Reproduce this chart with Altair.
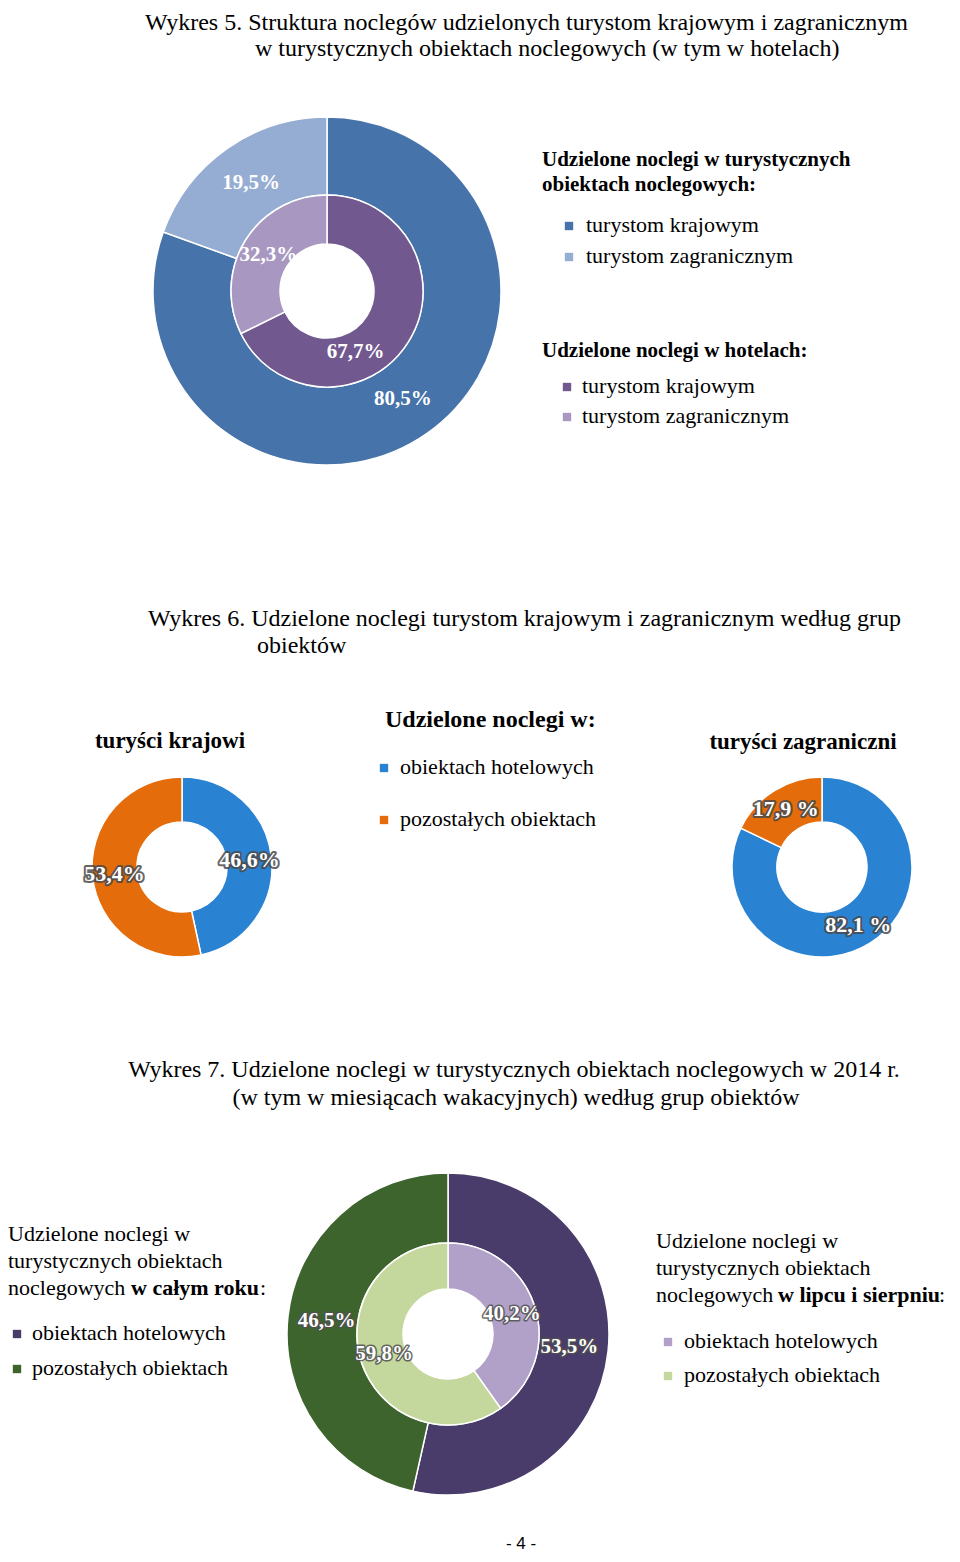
import altair as alt
import pandas as pd

OFF = 8  # page margin; page coordinates are converted to chart coordinates
SERIF = "Liberation Serif"
SANS = "Liberation Sans"

# ---------------- data ----------------
# Wykres 5
w5_title = ["Wykres 5. Struktura noclegów udzielonych turystom krajowym i zagranicznym",
            "w turystycznych obiektach noclegowych (w tym w hotelach)"]
w5_cats = ["turystom krajowym", "turystom zagranicznym"]
w5_all_vals = [80.5, 19.5]
w5_all_labels = ["80,5%", "19,5%"]
w5_hotel_vals = [67.7, 32.3]
w5_hotel_labels = ["67,7%", "32,3%"]
w5_legend1_title = ["Udzielone noclegi w turystycznych", "obiektach noclegowych:"]
w5_legend2_title = ["Udzielone noclegi w hotelach:"]

# Wykres 6
w6_title = ["Wykres 6. Udzielone noclegi turystom krajowym i zagranicznym według grup",
            "obiektów"]
w6_cats = ["obiektach hotelowych", "pozostałych obiektach"]
w6_dom_vals = [46.6, 53.4]
w6_dom_labels = ["46,6%", "53,4%"]
w6_for_vals = [82.1, 17.9]
w6_for_labels = ["82,1 %", "17,9 %"]
w6_panel_titles = ["turyści krajowi", "turyści zagraniczni"]
w6_legend_title = ["Udzielone noclegi w:"]

# Wykres 7
w7_title = ["Wykres 7. Udzielone noclegi w turystycznych obiektach noclegowych w 2014 r.",
            "(w tym w miesiącach wakacyjnych) według grup obiektów"]
w7_cats = ["obiektach hotelowych", "pozostałych obiektach"]
w7_year_vals = [53.5, 46.5]
w7_year_labels = ["53,5%", "46,5%"]
w7_summer_vals = [40.2, 59.8]
w7_summer_labels = ["40,2%", "59,8%"]
w7_year_legend_title = ["Udzielone noclegi w", "turystycznych obiektach", "noclegowych ", "w całym roku", ":"]
w7_summer_legend_title = ["Udzielone noclegi w", "turystycznych obiektach", "noclegowych ", "w lipcu i sierpniu", ":"]

page_number = ["- 4 -"]

# ---------------- styles ----------------
C5_ALL = ["#4673A9", "#96ADD3"]
C5_HOTEL = ["#71588F", "#A898C1"]
C6 = ["#2A83D2", "#E46C0A"]
C7_YEAR = ["#4A3C6A", "#3E642E"]
C7_SUMMER = ["#B1A1C8", "#C4D79C"]


def frame(cats, vals, labels):
    return pd.DataFrame({"kat": cats, "v": vals, "lab": labels, "i": list(range(len(cats)))})


def ring(df, colors, cx, cy, r0, r1):
    return alt.Chart(df).mark_arc(
        innerRadius=r0, outerRadius=r1, stroke="white", strokeWidth=1.5
    ).encode(
        theta=alt.Theta("v:Q", stack=True),
        color=alt.Color("kat:N", scale=alt.Scale(domain=list(df["kat"]), range=colors), legend=None),
        order=alt.Order("i:Q"),
        x=alt.value(cx - OFF),
        y=alt.value(cy - OFF),
    )


def ring_labels(df, cx, cy, r, size=21, halo=None, halo_w=3.0, sel=None, dx=0, dy=0):
    base = alt.Chart(df).transform_stack(
        stack="v", as_=["v0", "v1"], groupby=[], sort=[alt.SortField("i")]
    ).transform_calculate(mid="(datum.v0 + datum.v1) / 2")
    if sel is not None:
        base = base.transform_filter(alt.datum.i == sel)
    enc = dict(
        theta=alt.Theta("mid:Q", stack=False, scale=alt.Scale(domain=[0, 100])),
        text=alt.Text("lab:N"),
        x=alt.value(cx - OFF),
        y=alt.value(cy - OFF),
    )
    out = []
    common = dict(radius=r, dx=dx, dy=dy, font=SERIF, fontSize=size, fontWeight="bold",
                  align="center", baseline="middle")
    if halo:
        out.append(base.mark_text(color=halo, stroke=halo, strokeWidth=halo_w,
                                  strokeJoin="round", strokeOpacity=0.85, **common).encode(**enc))
    out.append(base.mark_text(color="white", **common).encode(**enc))
    return out


def txt(s, x, y, size, weight="normal", align="left", font=SERIF):
    return alt.Chart(pd.DataFrame({"t": [s]})).mark_text(
        align=align, baseline="alphabetic", font=font, fontSize=size,
        fontWeight=weight, color="black"
    ).encode(text="t:N", x=alt.value(x - OFF), y=alt.value(y - OFF))


def legend_item(cat, cats, colors, sx, sy, tx, ty, size=22, sq=70):
    df = pd.DataFrame({"kat": [cat]})
    square = alt.Chart(df).mark_square(size=sq, opacity=1).encode(
        color=alt.Color("kat:N", scale=alt.Scale(domain=cats, range=colors), legend=None),
        x=alt.value(sx - OFF), y=alt.value(sy - OFF),
    )
    label = alt.Chart(df).mark_text(
        align="left", baseline="alphabetic", font=SERIF, fontSize=size, color="black"
    ).encode(text="kat:N", x=alt.value(tx - OFF), y=alt.value(ty - OFF))
    return [square, label]


layers = []

# ===== Wykres 5 =====
layers += [txt(w5_title[0], 145, 30, 24), txt(w5_title[1], 255, 56, 24)]
d5a = frame(w5_cats, w5_all_vals, w5_all_labels)
d5h = frame(w5_cats, w5_hotel_vals, w5_hotel_labels)
cx5, cy5 = 327, 291
layers.append(ring(d5a, C5_ALL, cx5, cy5, 96, 174))
layers.append(ring(d5h, C5_HOTEL, cx5, cy5, 47, 96))
layers += ring_labels(d5a, cx5, cy5, 132)
layers += ring_labels(d5h, cx5, cy5, 69, sel=1)
layers += ring_labels(d5h, cx5, cy5, 69, sel=0, dx=-30, dy=25)
layers += [txt(w5_legend1_title[0], 542, 166, 21, "bold"), txt(w5_legend1_title[1], 542, 191, 21, "bold")]
layers += legend_item(w5_cats[0], w5_cats, C5_ALL, 569, 226, 586, 232)
layers += legend_item(w5_cats[1], w5_cats, C5_ALL, 569, 257, 586, 263)
layers += [txt(w5_legend2_title[0], 542, 357, 21, "bold")]
layers += legend_item(w5_cats[0], w5_cats, C5_HOTEL, 567, 387, 582, 393)
layers += legend_item(w5_cats[1], w5_cats, C5_HOTEL, 567, 417, 582, 423)

# ===== Wykres 6 =====
layers += [txt(w6_title[0], 148, 626, 24), txt(w6_title[1], 257, 653, 24)]
d6d = frame(w6_cats, w6_dom_vals, w6_dom_labels)
d6f = frame(w6_cats, w6_for_vals, w6_for_labels)
layers.append(ring(d6d, C6, 182, 867, 45, 90))
layers.append(ring(d6f, C6, 822, 867, 45, 90))
layers += ring_labels(d6d, 182, 867, 68, size=22, halo="#4a4a4a", halo_w=4)
layers += ring_labels(d6f, 822, 867, 68, size=22, halo="#4a4a4a", halo_w=4)
layers += [txt(w6_panel_titles[0], 170, 748, 23, "bold", align="center"),
           txt(w6_panel_titles[1], 803, 749, 23, "bold", align="center"),
           txt(w6_legend_title[0], 385, 727, 24, "bold")]
layers += legend_item(w6_cats[0], w6_cats, C6, 384, 768, 400, 774)
layers += legend_item(w6_cats[1], w6_cats, C6, 384, 820, 400, 826)

# ===== Wykres 7 =====
layers += [txt(w7_title[0], 514, 1077, 24, align="center"),
           txt(w7_title[1], 516, 1105, 24, align="center")]
d7y = frame(w7_cats, w7_year_vals, w7_year_labels)
d7s = frame(w7_cats, w7_summer_vals, w7_summer_labels)
cx7, cy7 = 448, 1334
layers.append(ring(d7y, C7_YEAR, cx7, cy7, 91, 161))
layers.append(ring(d7s, C7_SUMMER, cx7, cy7, 45, 91))
layers += ring_labels(d7y, cx7, cy7, 122, halo="#505050", halo_w=3)
layers += ring_labels(d7s, cx7, cy7, 67, halo="#505050", halo_w=3)
# left legend
layers += [txt(w7_year_legend_title[0], 8, 1241, 22),
           txt(w7_year_legend_title[1], 8, 1268, 22),
           txt(w7_year_legend_title[2], 8, 1295, 22),
           txt(w7_year_legend_title[3], 131, 1295, 22, "bold"),
           txt(w7_year_legend_title[4], 260, 1295, 22)]
layers += legend_item(w7_cats[0], w7_cats, C7_YEAR, 17, 1334, 32, 1340)
layers += legend_item(w7_cats[1], w7_cats, C7_YEAR, 17, 1369, 32, 1375)
# right legend
layers += [txt(w7_summer_legend_title[0], 656, 1248, 22),
           txt(w7_summer_legend_title[1], 656, 1275, 22),
           txt(w7_summer_legend_title[2], 656, 1302, 22),
           txt(w7_summer_legend_title[3], 778, 1302, 22, "bold"),
           txt(w7_summer_legend_title[4], 939, 1302, 22)]
layers += legend_item(w7_cats[0], w7_cats, C7_SUMMER, 668, 1342, 684, 1348)
layers += legend_item(w7_cats[1], w7_cats, C7_SUMMER, 668, 1376, 684, 1382)

# page number
layers.append(txt(page_number[0], 521, 1549, 17, align="center", font=SANS))

chart = alt.layer(*layers).properties(
    width=944, height=1546, padding=0,
    autosize=alt.AutoSizeParams(type="none"),
).resolve_scale(
    color="independent", theta="independent"
).configure_view(stroke=None)

chart.save("out.html", embed_options={"renderer": "svg", "actions": False})
